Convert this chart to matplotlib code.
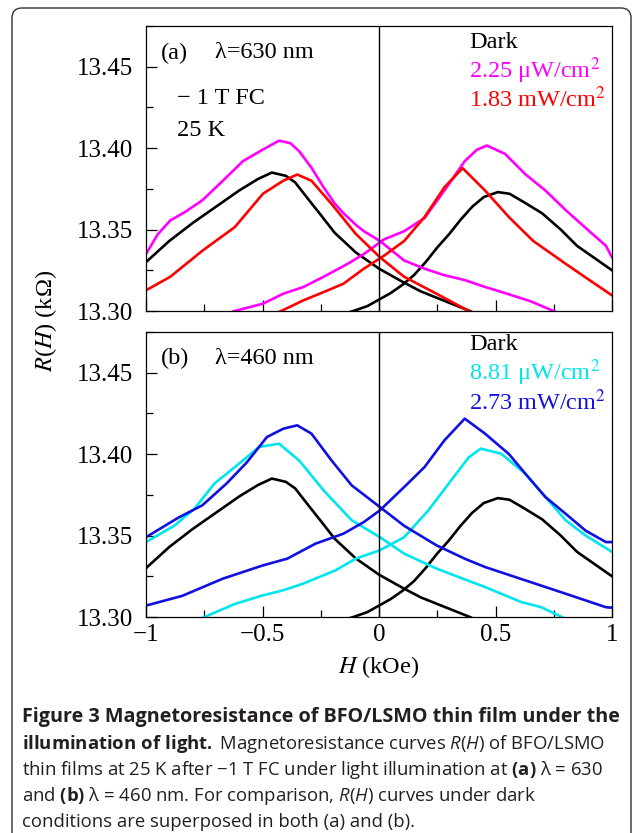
import matplotlib
matplotlib.use('Agg')
import matplotlib.pyplot as plt
from matplotlib.patches import FancyBboxPatch
from matplotlib.ticker import MultipleLocator

plt.rcParams['font.family'] = 'Liberation Serif'
plt.rcParams['mathtext.fontset'] = 'custom'
plt.rcParams['mathtext.rm'] = 'Open Sans'
plt.rcParams['mathtext.it'] = 'Open Sans:italic'
plt.rcParams['mathtext.bf'] = 'Open Sans:bold'

# Dark curves (same in both panels)
dark_down_x = [-1.0, -0.9, -0.8, -0.7, -0.6, -0.52, -0.46, -0.40, -0.36, -0.30, -0.25,
               -0.19, -0.10, 0.0, 0.10, 0.18, 0.25, 0.32, 0.39, 0.45]
dark_down_y = [13.330, 13.343, 13.354, 13.364, 13.374, 13.381, 13.385, 13.383, 13.379,
               13.368, 13.359, 13.348, 13.336, 13.326, 13.318, 13.312, 13.308, 13.304,
               13.300, 13.296]
dark_up_x = [-0.18, -0.11, -0.05, 0.0, 0.05, 0.10, 0.15, 0.20, 0.25, 0.30, 0.35, 0.40,
             0.45, 0.51, 0.56, 0.62, 0.70, 0.78, 0.85, 0.92, 1.0]
dark_up_y = [13.297, 13.300, 13.303, 13.307, 13.311, 13.316, 13.322, 13.330, 13.339,
             13.347, 13.356, 13.364, 13.370, 13.373, 13.372, 13.367, 13.360, 13.350,
             13.340, 13.333, 13.325]

# (a) 630 nm, 2.25 uW/cm2
mag_down_x = [-1, -0.95, -0.896, -0.83, -0.758, -0.67, -0.584, -0.50, -0.429, -0.38,
              -0.342, -0.29, -0.238, -0.19, -0.152, -0.10, -0.065, 0.004, 0.108, 0.195,
              0.28, 0.368, 0.45, 0.541, 0.65, 0.749, 0.80]
mag_down_y = [13.335, 13.347, 13.3556, 13.361, 13.368, 13.380, 13.392, 13.399, 13.4046,
              13.403, 13.398, 13.388, 13.376, 13.366, 13.360, 13.353, 13.349, 13.343,
              13.331, 13.326, 13.322, 13.319, 13.315, 13.311, 13.306, 13.300, 13.297]
mag_up_x = [-0.68, -0.619, -0.498, -0.411, -0.325, -0.238, -0.134, -0.065, 0.022, 0.108,
            0.195, 0.281, 0.368, 0.42, 0.463, 0.541, 0.628, 0.714, 0.801, 0.887, 0.974, 1.0]
mag_up_y = [13.297, 13.300, 13.3045, 13.3106, 13.3147, 13.321, 13.329, 13.335, 13.344,
            13.349, 13.357, 13.374, 13.392, 13.399, 13.4016, 13.3965, 13.384, 13.374,
            13.362, 13.351, 13.340, 13.333]

# (a) 630 nm, 1.83 mW/cm2
red_down_x = [-1, -0.896, -0.758, -0.619, -0.498, -0.411, -0.351, -0.290, -0.204, -0.100,
              0.004, 0.108, 0.247, 0.385, 0.43]
red_down_y = [13.3127, 13.321, 13.337, 13.3515, 13.372, 13.380, 13.3838, 13.380, 13.3658,
              13.3474, 13.333, 13.321, 13.3106, 13.300, 13.297]
red_up_x = [-0.47, -0.420, -0.325, -0.238, -0.152, -0.065, 0.022, 0.108, 0.195, 0.281,
            0.359, 0.455, 0.558, 0.662, 0.801, 0.905, 1.0]
red_up_y = [13.297, 13.300, 13.3065, 13.3116, 13.3168, 13.326, 13.334, 13.343, 13.3576,
            13.376, 13.3877, 13.374, 13.3576, 13.343, 13.329, 13.3188, 13.3096]

# (b) 460 nm, 8.81 uW/cm2
cyan_down_x = [-1, -0.879, -0.792, -0.706, -0.619, -0.515, -0.429, -0.342, -0.238, -0.117,
               0.004, 0.108, 0.247, 0.455, 0.61, 0.697, 0.784, 0.82]
cyan_down_y = [13.346, 13.356, 13.3665, 13.382, 13.392, 13.4044, 13.4064, 13.396, 13.3778,
               13.3594, 13.349, 13.3389, 13.3297, 13.3184, 13.3092, 13.306, 13.300, 13.297]
cyan_up_x = [-0.80, -0.749, -0.619, -0.498, -0.411, -0.325, -0.186, -0.100, 0.004, 0.108,
             0.212, 0.299, 0.385, 0.437, 0.524, 0.628, 0.714, 0.801, 0.887, 1.0]
cyan_up_y = [13.297, 13.300, 13.308, 13.3133, 13.3164, 13.3205, 13.3287, 13.3358, 13.341,
             13.349, 13.3655, 13.3819, 13.398, 13.4034, 13.4003, 13.388, 13.3737, 13.3594,
             13.350, 13.340]

# (b) 460 nm, 2.73 mW/cm2
blue_down_x = [-1, -0.861, -0.758, -0.654, -0.567, -0.481, -0.411, -0.351, -0.290, -0.203,
               -0.117, 0.004, 0.108, 0.247, 0.368, 0.455, 0.628, 0.801, 0.974, 1.0]
blue_down_y = [13.349, 13.361, 13.3686, 13.382, 13.395, 13.4105, 13.4156, 13.4177, 13.4126,
               13.396, 13.3808, 13.3675, 13.356, 13.344, 13.3358, 13.3307, 13.3225, 13.3143,
               13.306, 13.3057]
blue_up_x = [-1, -0.844, -0.671, -0.498, -0.394, -0.273, -0.152, -0.065, 0.004, 0.108,
             0.195, 0.281, 0.368, 0.455, 0.558, 0.628, 0.714, 0.801, 0.887, 0.974, 1.0]
blue_up_y = [13.307, 13.313, 13.3235, 13.3317, 13.3358, 13.345, 13.3512, 13.3583, 13.3655,
             13.3798, 13.392, 13.4085, 13.4218, 13.4126, 13.400, 13.388, 13.3737, 13.3634,
             13.353, 13.346, 13.346]

x_ticks = [-1, -0.5, 0, 0.5, 1]
x_ticklabels = ['\u22121', '\u22120.5', '0', '0.5', '1']
y_ticks = [13.30, 13.35, 13.40, 13.45]

W, H = 633, 833
fig = plt.figure(figsize=(W / 100, H / 100), dpi=100)

# rounded frame around the whole figure
frame = FancyBboxPatch((12, -20), 619, 833 - 8 + 20, boxstyle='round,pad=0,rounding_size=10',
                       transform=None, fill=False, edgecolor='#333333', linewidth=1.0)
fig.patches.append(frame)

ax_a = fig.add_axes([146 / W, 1 - 311 / H, 466 / W, 285 / H])
ax_b = fig.add_axes([146 / W, 1 - 617 / H, 466 / W, 285 / H])

lw = 1.9
for ax in (ax_a, ax_b):
    ax.plot(dark_down_x, dark_down_y, color='black', lw=lw)
    ax.plot(dark_up_x, dark_up_y, color='black', lw=lw)

ax_a.plot(mag_down_x, mag_down_y, color='#ff00ff', lw=lw)
ax_a.plot(mag_up_x, mag_up_y, color='#ff00ff', lw=lw)
ax_a.plot(red_down_x, red_down_y, color='#ff0000', lw=lw)
ax_a.plot(red_up_x, red_up_y, color='#ff0000', lw=lw)

ax_b.plot(cyan_down_x, cyan_down_y, color='#00e5ee', lw=lw)
ax_b.plot(cyan_up_x, cyan_up_y, color='#00e5ee', lw=lw)
ax_b.plot(blue_down_x, blue_down_y, color='#1010e0', lw=lw)
ax_b.plot(blue_up_x, blue_up_y, color='#1010e0', lw=lw)

for ax in (ax_a, ax_b):
    ax.axvline(0, color='black', lw=1.0)
    ax.set_xlim(-1, 1)
    ax.set_ylim(13.30, 13.475)
    ax.set_xticks(x_ticks)
    ax.set_xticklabels(x_ticklabels)
    ax.set_yticks(y_ticks)
    ax.set_yticklabels(['%.2f' % v for v in y_ticks])
    ax.xaxis.set_minor_locator(MultipleLocator(0.25))
    ax.yaxis.set_minor_locator(MultipleLocator(0.025))
    ax.tick_params(which='both', direction='in', top=False, right=False, labelsize=18, width=0.9)
    ax.tick_params(which='major', length=8)
    ax.tick_params(which='minor', length=5)
    ax.tick_params(axis='y', pad=9)
    ax.tick_params(axis='x', pad=5)
    for s in ax.spines.values():
        s.set_linewidth(0.9)

ax_a.tick_params(labelbottom=False)


def fig_text(x, y, s, **kw):
    fig.text(x / W, 1 - y / H, s, va='center', **kw)


# labels (a)
fs = 17.5
fig_text(161, 53, '(a)', fontsize=fs)
fig_text(215, 53, '\u03bb=630 nm', fontsize=fs)
fig_text(177, 98, '\u2212 1 T FC', fontsize=fs)
fig_text(177, 131, '25 K', fontsize=fs)
fig_text(469, 42, 'Dark', fontsize=fs)
fig_text(469, 71, '2.25 \u03bcW/cm$^2$', fontsize=fs, color='#ff00ff', math_fontfamily='stix')
fig_text(469, 99, '1.83 mW/cm$^2$', fontsize=fs, color='#ff0000', math_fontfamily='stix')

# labels (b)
fig_text(161, 358, '(b)', fontsize=fs)
fig_text(215, 358, '\u03bb=460 nm', fontsize=fs)
fig_text(469, 344, 'Dark', fontsize=fs)
fig_text(469, 373, '8.81 \u03bcW/cm$^2$', fontsize=fs, color='#00e5ee', math_fontfamily='stix')
fig_text(469, 402, '2.73 mW/cm$^2$', fontsize=fs, color='#1010e0', math_fontfamily='stix')

# axis labels
fig.text(46 / W, 1 - 321 / H, '$R$($H$) (k\u03a9)', rotation=90, fontsize=17.5,
         ha='center', va='center', math_fontfamily='stix')
fig.text(379 / W, 1 - 667 / H, '$H$ (kOe)', fontsize=17.5, ha='center', va='center',
         math_fontfamily='stix')

# caption
cap_kw = dict(family='Open Sans', fontsize=13.3, color='#231f20', va='center')
fig.text(22 / W, 1 - 717 / H, 'Figure 3 Magnetoresistance of BFO/LSMO thin film under the',
         fontweight='bold', family='Open Sans', fontsize=14.2, color='#231f20', va='center')
fig.text(22 / W, 1 - 744 / H,
         r'$\mathbf{illumination\ of\ light.}\;$Magnetoresistance curves $\mathit{R}$($\mathit{H}$) of BFO/LSMO',
         math_fontfamily='custom', **cap_kw)
fig.text(22 / W, 1 - 770 / H,
         'thin films at 25 K after \u22121 T FC under light illumination at $\\mathbf{(a)}$ \u03bb = 630',
         math_fontfamily='custom', **cap_kw)
fig.text(22 / W, 1 - 796 / H,
         'and $\\mathbf{(b)}$ \u03bb = 460 nm. For comparison, $\\mathit{R}$($\\mathit{H}$) curves under dark',
         math_fontfamily='custom', **cap_kw)
fig.text(22 / W, 1 - 822 / H, 'conditions are superposed in both (a) and (b).',
         math_fontfamily='custom', **cap_kw)

fig.savefig('out.png', dpi=100)
